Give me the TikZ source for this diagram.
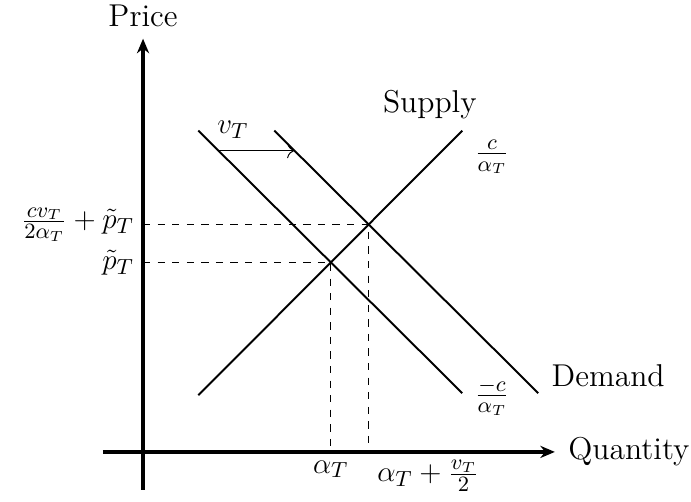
\documentclass[tikz,border=0pt]{standalone}
\usepackage{amsmath}
\usetikzlibrary{arrows.meta, positioning, calc}

\tikzset{
  axis/.style={line width=1.5pt, -{Stealth[length=6pt, width=5pt]}},
  curve/.style={thick},
  guide/.style={dashed},
  shiftarrow/.style={-{To[length=3pt]}},
  ylabel/.style={anchor=east, inner sep=1pt, xshift=-2.5pt}
}

\begin{document}
\begin{tikzpicture}[font=\fontsize{13}{16}\selectfont]
			\useasboundingbox (-2.07,-0.724) rectangle (7.93,6.54);
			% Axes:
			\coordinate (O) at (0, 0);
			\coordinate (Xl) at (-0.58, 0);
			\coordinate (Xr) at (5.96, 0);
			\coordinate (Yb) at (0, -0.55);
			\coordinate (Yt) at (0, 5.98);
			\draw[axis] (Xl) -- (Xr);
			\draw[axis] (Yb) -- (Yt);
			\node[anchor=west, xshift=2pt](Q) at (Xr){Quantity};
			\node[anchor=south, yshift=1.5pt](P) at (Yt){Price};
			% Supply and demand lines:
			\coordinate (S1) at (0.80, 0.82);
			\coordinate (S2) at (4.62, 4.65);
			\coordinate (Da1) at (0.80, 4.65);
			\coordinate (Da2) at (4.62, 0.85);
			\coordinate (Db1) at (1.90, 4.65);
			\coordinate (Db2) at (5.72, 0.85);
			\draw[curve] (S1) -- (S2);
			\draw[curve] (Da1) -- (Da2);
			\draw[curve] (Db1) -- (Db2);
			\node(Sup) at (4.15, 5.02){Supply};
			\node(Dem) [anchor=west] at (5.79, 1.10){Demand};
			\node(cs) at (5.05, 4.27){$\frac{c}{\alpha_T}$};
			\node(cd) at (5.05, 0.80){$\frac{-c}{\alpha_T}$};
			% Shift of demand:
			\coordinate (V1) at ($(Da1)!0.076!(Da2)$);
			\coordinate (V2) at ($(Db1)!0.076!(Db2)$);
			\draw[shiftarrow] (V1) -- (V2);
			\node(vT) at (1.30, 4.66){$v_T$};
			% Equilibria:
			\coordinate (E1) at (intersection of S1--S2 and Da1--Da2);
			\coordinate (E2) at (intersection of S1--S2 and Db1--Db2);
			\draw[guide] (E1 -| O) -- (E1) -- (E1 |- O);
			\draw[guide] (E2 -| O) -- (E2) -- (E2 |- O);
			\node[ylabel](p1) at (E1 -| O){$\tilde{p}_T$};
			\node[ylabel](p2) at (E2 -| O){$\frac{cv_T}{2\alpha_T} + \tilde{p}_T$};
			\node[anchor=north](q1) at (E1 |- O){$\alpha_T$};
			\node[anchor=north west](q2) at (E2 |- O){$\alpha_T + \frac{v_T}{2}$};
		\end{tikzpicture}
\end{document}
